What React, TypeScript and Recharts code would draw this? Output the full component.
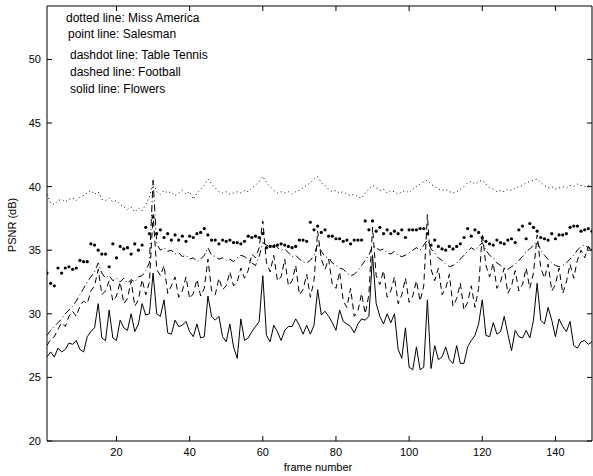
import { LineChart, Line, XAxis, YAxis } from "recharts"

const FONT = "'Liberation Sans', Arial, Helvetica, sans-serif"

const missAmerica = [
  39.4, 38.7, 38.6, 38.9, 39.0, 38.8, 39.0, 39.1, 38.9, 39.2,
  39.3, 39.5, 39.7, 39.4, 39.6, 39.0, 38.9, 39.1, 38.8, 38.9,
  38.6, 38.4, 38.2, 38.4, 38.0, 38.3, 38.1, 38.6, 39.2, 40.3,
  39.6, 39.4, 39.7, 39.5, 39.6, 39.3, 39.5, 39.7, 39.4, 39.6,
  39.0, 39.5, 39.8, 40.1, 40.6, 40.2, 39.9, 39.6, 39.5, 39.6,
  39.4, 39.5, 39.6, 39.5, 39.7, 39.6, 39.9, 40.1, 40.4, 40.8,
  40.3, 40.0, 39.7, 39.5, 39.6, 39.5, 39.6, 39.4, 39.6, 39.7,
  39.9, 40.1, 40.3, 40.6, 40.8, 40.3, 40.1, 39.8, 39.6, 39.7,
  39.5, 39.6, 39.4, 39.3, 39.4, 39.2, 39.1, 39.5, 39.8, 40.1,
  39.9, 39.7, 39.8, 39.5, 39.7, 39.6, 39.4, 39.6, 39.7, 39.5,
  39.8, 40.0, 40.2, 40.4, 40.5, 40.2, 40.0, 39.8, 39.7, 39.8,
  39.6, 39.5, 39.6, 39.8, 40.0, 40.3, 40.4, 40.2, 40.4, 40.5,
  40.2, 39.9, 39.8, 39.6, 39.7, 39.6, 39.8, 39.7, 39.9, 40.0,
  40.1, 40.3, 40.4, 40.5, 40.6, 40.3, 40.1, 39.9, 40.0, 39.8,
  39.9, 40.0, 39.9, 40.1, 40.0, 40.2, 40.1, 40.0, 40.1, 40.0,
]

const salesman = [
  33.2, 32.4, 32.2, 33.6, 33.2, 33.6, 33.7, 33.5, 33.6, 34.2,
  34.1, 34.1, 35.5, 35.4, 35.0, 34.7, 34.7, 33.7, 35.5, 34.4,
  35.3, 35.1, 35.2, 34.7, 35.5, 35.0, 35.4, 36.8, 36.3, 37.6,
  36.3, 36.6, 36.0, 36.3, 35.8, 36.2, 35.8, 36.1, 35.7, 36.1,
  36.0, 36.3, 36.4, 36.7, 36.2, 35.8, 35.8, 35.5, 35.8, 35.7,
  35.8, 35.6, 35.6, 35.5, 35.7, 36.1, 36.0, 36.1, 36.0, 36.3,
  35.2, 35.3, 35.3, 35.4, 35.5, 35.4, 35.3, 35.2, 35.3, 35.8,
  35.8, 35.7, 37.2, 36.6, 36.9, 36.4, 36.6, 36.1, 36.1, 35.9,
  35.9, 35.7, 35.8, 35.5, 35.8, 35.8, 35.8, 37.3, 36.6, 37.3,
  36.5, 36.8, 36.3, 36.6, 36.3, 36.5, 36.3, 36.6, 36.0, 36.6,
  36.6, 36.6, 36.7, 36.7, 36.3, 35.4, 35.8, 35.3, 35.1, 35.0,
  35.3, 35.1, 35.3, 35.5, 36.0, 36.7, 36.1, 36.6, 36.4, 36.0,
  35.7, 35.5, 35.4, 35.8, 35.6, 35.5, 35.8, 35.9, 35.6, 36.6,
  36.9, 35.9, 37.1, 36.8, 36.5, 36.0, 35.9, 35.8, 36.3, 35.9,
  36.2, 36.2, 36.3, 36.8, 36.9, 36.9, 36.5, 36.6, 36.7, 36.5,
]

const tableTennis = [
  28.3, 28.7, 29.0, 29.3, 29.6, 30.0, 30.3, 30.6, 31.0, 31.5,
  32.0, 32.5, 32.9, 33.3, 34.0, 33.2, 32.8, 33.0, 32.6, 32.8,
  32.5, 32.8, 32.4, 32.7, 32.5, 32.9, 33.0, 33.4, 34.0, 40.5,
  35.5, 35.0, 35.2, 34.9, 35.0, 34.7, 34.8, 34.5, 34.6, 34.3,
  34.4, 34.1, 34.3, 34.6, 35.2, 34.6, 34.5, 34.3, 34.4, 34.2,
  34.3, 34.1, 34.4, 34.6, 34.5, 34.3, 34.0, 33.8, 34.5, 35.6,
  35.4, 35.3, 35.5, 35.2, 35.0, 35.1, 34.8, 34.5, 34.6, 34.3,
  34.1, 34.0, 34.2, 34.6, 35.5, 34.9, 34.5, 34.4, 34.0, 33.8,
  33.6, 33.5, 33.2, 33.0, 33.1, 33.4, 33.8, 34.2, 34.6, 35.3,
  35.2, 35.0, 35.1, 34.8, 34.7, 34.9, 34.6, 34.5, 34.6, 34.8,
  35.0, 35.2, 35.0, 35.4, 35.8, 35.1, 34.8, 34.4, 34.2, 33.9,
  33.7, 33.8, 34.0, 34.3, 34.6, 34.9, 35.2, 35.0, 35.3, 35.6,
  35.0, 34.6, 34.4, 34.0, 33.8, 33.6, 33.5, 33.7, 33.9, 34.2,
  34.5, 34.9, 35.1, 35.4, 35.7, 35.0, 34.6, 34.3, 34.0, 33.8,
  33.7, 33.8, 34.0, 34.3, 34.6, 35.0, 35.3, 35.4, 35.2, 35.0,
]

const football = [
  27.5, 28.0, 28.2, 28.8, 29.3, 29.0, 29.8, 30.2, 29.8, 30.6,
  31.0, 30.8, 31.8, 32.2, 33.5, 31.5, 31.8, 32.6, 31.0, 31.4,
  32.5, 30.8, 31.2, 32.6, 30.6, 31.1, 32.7, 31.5, 32.5, 37.8,
  33.5, 33.0, 33.8, 31.6, 32.2, 32.9, 31.3, 31.8, 32.9, 31.2,
  31.6, 32.7, 31.4, 32.0, 34.3, 31.8, 31.5, 32.8, 31.9, 32.2,
  33.3, 32.2, 32.5, 33.6, 32.8, 33.4, 34.7, 34.4, 35.2, 37.3,
  34.0, 33.3, 34.6, 32.6, 32.9, 34.3, 32.2, 32.6, 33.8, 31.5,
  31.9, 33.1, 31.3, 32.6, 36.5, 34.3, 33.5, 34.3, 32.3, 32.0,
  33.3, 31.0, 30.5, 32.0, 29.8, 30.2, 31.6, 30.0, 31.5, 36.8,
  33.0, 32.3, 33.4, 31.3, 31.8, 32.9, 30.8, 31.5, 32.8, 30.9,
  31.4, 32.6, 31.0, 32.2, 37.8, 33.5, 32.6, 33.6, 31.5, 32.0,
  33.1, 30.6, 31.2, 32.4, 30.3, 30.9, 32.2, 30.5, 32.0, 36.3,
  33.8, 32.9, 34.0, 32.0, 32.5, 33.6, 31.6, 32.2, 33.4, 31.8,
  32.3, 33.6, 32.0, 33.2, 36.2, 33.6, 32.8, 33.9, 31.8, 32.3,
  33.6, 31.6, 32.5, 33.9, 32.8, 34.2, 35.0, 34.4, 35.3, 35.0,
]

const flowers = [
  26.6, 27.0, 26.6, 27.3, 27.0, 27.2, 27.7, 27.6, 27.9, 27.2,
  27.0, 28.2, 28.6, 28.9, 30.8, 28.1, 27.9, 30.3, 28.1, 27.9,
  29.5, 28.9, 28.7, 30.0, 28.6, 29.2, 30.8, 29.9, 30.0, 33.2,
  30.0, 29.8, 31.1, 28.5, 28.4, 29.5, 29.0, 29.1, 29.4, 28.6,
  28.2, 29.2, 28.1, 28.2, 31.4, 29.8, 29.5, 29.8, 28.2, 27.8,
  29.2, 27.4, 26.5, 29.6, 27.9, 28.1, 28.6, 29.0, 29.4, 33.0,
  28.3, 27.8, 29.1, 28.6, 27.9, 28.7, 29.0, 29.0, 29.6, 29.1,
  28.4, 29.1, 28.4, 29.1, 31.9, 29.9, 30.2, 29.8, 29.3, 28.7,
  30.3, 29.4, 29.2, 29.0, 28.5, 29.2, 29.6, 29.5, 29.8, 34.6,
  30.8, 29.8, 29.2, 30.0, 29.3, 30.0, 27.2, 26.5, 28.9, 25.8,
  25.6, 27.4, 25.6, 25.8, 31.1, 25.7, 27.5, 26.4, 26.6, 27.4,
  26.4, 26.1, 27.5, 26.1, 26.1, 27.4, 27.9, 28.3, 29.2, 31.1,
  28.3, 28.2, 29.3, 28.4, 28.6, 29.8, 28.4, 27.1, 28.7, 28.2,
  28.1, 28.7, 28.1, 29.5, 32.4, 29.5, 29.2, 30.5, 29.5, 28.2,
  29.6, 29.0, 28.6, 29.4, 27.5, 27.3, 27.8, 27.9, 27.6, 27.8,
]

const xTicks = [20, 40, 60, 80, 100, 120, 140]
const yTicks = [20, 25, 30, 35, 40, 45, 50]

const legendLines = [
  "dotted line: Miss America",
  "point line: Salesman",
  "dashdot line: Table Tennis",
  "dashed line: Football",
  "solid line: Flowers",
]

const data = flowers.map((_, i) => ({
  frame: i + 1,
  missAmerica: missAmerica[i],
  salesman: salesman[i],
  tableTennis: tableTennis[i],
  football: football[i],
  flowers: flowers[i],
}))

const BottomTick = ({ x, y, payload }: any) => (
  <g>
    <line x1={x} y1={y} x2={x} y2={y - 5} stroke="#000" />
    <text x={x} y={y + 15} textAnchor="middle" fontSize={11} fontFamily={FONT} fill="#000">
      {payload.value}
    </text>
  </g>
)

const TopTick = ({ x, y }: any) => <line x1={x} y1={y} x2={x} y2={y + 5} stroke="#000" />

const LeftTick = ({ x, y, payload }: any) => (
  <g>
    <line x1={x} y1={y} x2={x + 5} y2={y} stroke="#000" />
    <text x={x - 6} y={y + 4} textAnchor="end" fontSize={11} fontFamily={FONT} fill="#000">
      {payload.value}
    </text>
  </g>
)

const RightTick = ({ x, y }: any) => <line x1={x} y1={y} x2={x - 5} y2={y} stroke="#000" />

export default function App() {
  return (
    <div style={{ position: "absolute", left: 0, top: 0, width: 593, height: 476, background: "#fff" }}>
      <LineChart width={593} height={476} data={data} margin={{ top: 5, right: 0, bottom: 34, left: 46 }}>
        <XAxis
          xAxisId="bottom"
          dataKey="frame"
          type="number"
          domain={[1, 150]}
          ticks={xTicks}
          height={1}
          tickSize={0}
          tickMargin={0}
          tickLine={false}
          tick={<BottomTick />}
          axisLine={{ stroke: "#000" }}
          allowDataOverflow
        />
        <XAxis
          xAxisId="top"
          orientation="top"
          dataKey="frame"
          type="number"
          domain={[1, 150]}
          ticks={xTicks}
          height={1}
          tickSize={0}
          tickMargin={0}
          tickLine={false}
          tick={<TopTick />}
          axisLine={{ stroke: "#000" }}
          allowDataOverflow
        />
        <YAxis
          yAxisId="left"
          type="number"
          domain={[20, 54.2]}
          ticks={yTicks}
          width={1}
          tickSize={0}
          tickMargin={0}
          tickLine={false}
          tick={<LeftTick />}
          axisLine={{ stroke: "#000" }}
          allowDataOverflow
        />
        <YAxis
          yAxisId="right"
          orientation="right"
          type="number"
          domain={[20, 54.2]}
          ticks={yTicks}
          width={1}
          tickSize={0}
          tickMargin={0}
          tickLine={false}
          tick={<RightTick />}
          axisLine={{ stroke: "#000" }}
          allowDataOverflow
        />
        <Line
          xAxisId="bottom"
          yAxisId="left"
          type="linear"
          dataKey="missAmerica"
          stroke="#000"
          strokeWidth={1}
          strokeDasharray="1 3"
          dot={false}
          activeDot={false}
          isAnimationActive={false}
        />
        <Line
          xAxisId="bottom"
          yAxisId="left"
          type="linear"
          dataKey="salesman"
          stroke="none"
          dot={{ r: 1.6, fill: "#000", stroke: "none" }}
          activeDot={false}
          isAnimationActive={false}
        />
        <Line
          xAxisId="bottom"
          yAxisId="left"
          type="linear"
          dataKey="tableTennis"
          stroke="#000"
          strokeWidth={1}
          strokeDasharray="7 3 1 3"
          dot={false}
          activeDot={false}
          isAnimationActive={false}
        />
        <Line
          xAxisId="bottom"
          yAxisId="left"
          type="linear"
          dataKey="football"
          stroke="#000"
          strokeWidth={1}
          strokeDasharray="6 4"
          dot={false}
          activeDot={false}
          isAnimationActive={false}
        />
        <Line
          xAxisId="bottom"
          yAxisId="left"
          type="linear"
          dataKey="flowers"
          stroke="#000"
          strokeWidth={1}
          dot={false}
          activeDot={false}
          isAnimationActive={false}
        />
      </LineChart>
      <svg
        width={593}
        height={476}
        style={{ position: "absolute", left: 0, top: 0, pointerEvents: "none" }}
        fontFamily={FONT}
        fontSize={11}
      >
        {legendLines.map((t, i) => (
          <text key={t} x={[66, 68, 70, 70, 70][i]} y={[21.5, 37.5, 58.5, 75.5, 92.5][i]} fontSize={12} fill="#000">
            {t}
          </text>
        ))}
        <text x={318} y={471} textAnchor="middle" fill="#000">
          frame number
        </text>
        <text x={16} y={225} textAnchor="middle" fill="#000" transform="rotate(-90 16 225)">
          PSNR (dB)
        </text>
      </svg>
    </div>
  )
}
